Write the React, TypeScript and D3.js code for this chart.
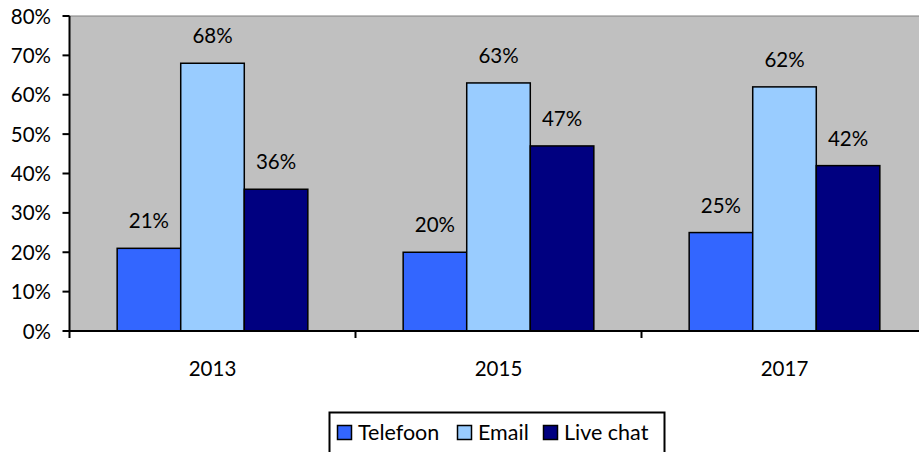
import React from "react";
import * as d3 from "d3";

const categories = ["2013", "2015", "2017"];
const seriesNames = ["Telefoon", "Email", "Live chat"];
const telefoon = [21, 20, 25];
const email = [68, 63, 62];
const liveChat = [36, 47, 42];
const yTicks = [0, 10, 20, 30, 40, 50, 60, 70, 80];
const colors = ["#3366FF", "#99CCFF", "#000080"];

export default function App() {
  const W = 919, H = 452;
  const left = 69.5, top = 16, bottom = 331;
  const catW = 286;
  const right = left + catW * categories.length;
  const font = "Lato, 'Open Sans', sans-serif";
  const fs = 20.5;
  const series = [telefoon, email, liveChat];

  const x0 = d3.scaleBand<string>().domain(categories).range([left, right]).paddingInner(0).paddingOuter(0);
  const y = d3.scaleLinear().domain([0, 80]).range([bottom, top]);
  const barW = catW / (3 + 1.5);
  const x1 = d3.scaleBand<string>().domain(seriesNames).range([0, barW * 3]);

  return (
    <svg width={W} height={H} style={{ position: "absolute", left: 0, top: 0 }} fontFamily={font}>
      <rect x={0} y={0} width={W} height={H} fill="#fff" />
      <rect x={left} y={top} width={right - left} height={bottom - top} fill="#C0C0C0" stroke="#808080" strokeWidth={1} />
      {categories.map((c, ci) =>
        series.map((s, si) => {
          const bx = (x0(c) as number) + barW * 0.75 + (x1(seriesNames[si]) as number);
          const by = y(s[ci]);
          return (
            <g key={c + si}>
              <rect x={bx} y={by} width={barW} height={bottom - by} fill={colors[si]} stroke="#000" strokeWidth={1.5} />
              <text x={bx + barW / 2} y={by - 20} textAnchor="middle" fontSize={fs} fill="#000">
                {s[ci]}%
              </text>
            </g>
          );
        })
      )}
      <line x1={left} x2={left} y1={top} y2={bottom + 7} stroke="#000" strokeWidth={2} />
      <line x1={left} x2={right} y1={bottom} y2={bottom} stroke="#000" strokeWidth={2} />
      {yTicks.map((t) => (
        <g key={t}>
          <line x1={left - 7} x2={left} y1={y(t)} y2={y(t)} stroke="#000" strokeWidth={2} />
          <text x={51} y={y(t) + 7.5} textAnchor="end" fontSize={fs} fill="#000">
            {t}%
          </text>
        </g>
      ))}
      {categories.map((c, i) => (
        <g key={c}>
          <line x1={left + catW * (i + 1)} x2={left + catW * (i + 1)} y1={bottom} y2={bottom + 7} stroke="#000" strokeWidth={2} />
          <text x={(x0(c) as number) + catW / 2} y={376} textAnchor="middle" fontSize={fs} fill="#000">
            {c}
          </text>
        </g>
      ))}
      <rect x={329.5} y={412.5} width={335} height={50} fill="#fff" stroke="#000" strokeWidth={2} />
      {seriesNames.map((n, i) => {
        const lx = [337, 457, 543][i];
        return (
          <g key={n}>
            <rect x={lx + 0.5} y={425.5} width={14} height={14} fill={colors[i]} stroke="#000" strokeWidth={1.5} />
            <text x={lx + 21} y={440} fontSize={21.5} fill="#000">
              {n}
            </text>
          </g>
        );
      })}
    </svg>
  );
}
